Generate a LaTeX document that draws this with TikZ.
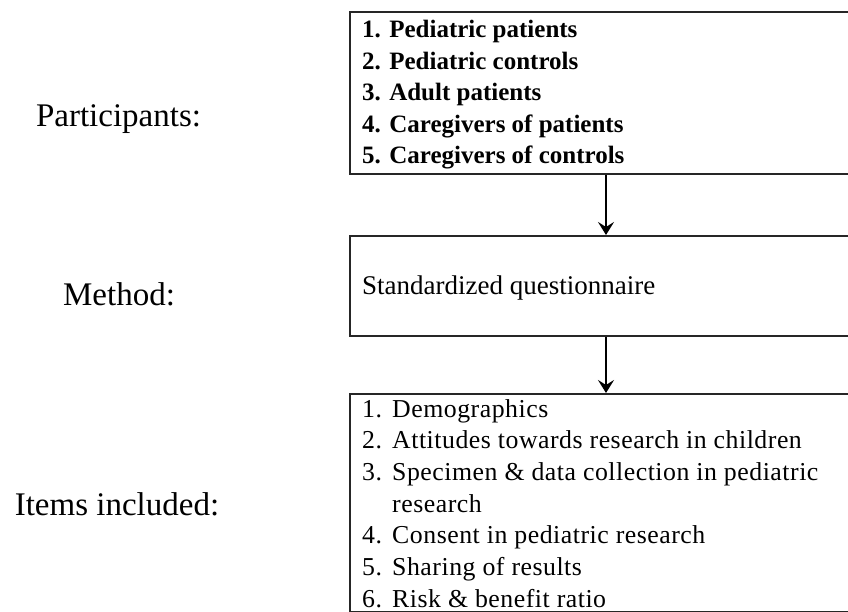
\documentclass[tikz,border=0pt]{standalone}
\usepackage{fontspec}
\setmainfont{Liberation Serif}
\newfontfamily\itemsfont[LetterSpace=2]{Liberation Serif}
\usetikzlibrary{arrows.meta}
\begin{document}
\begin{tikzpicture}[x=1pt,y=-1pt,
  box/.style={draw=black!85,line width=1.6pt,rectangle,inner sep=0pt,anchor=north west},
  item/.style={anchor=base west,inner sep=0pt,font=\itemsfont\fontsize{25.8}{30}\selectfont},
  bitem/.style={anchor=base west,inner sep=0pt,font=\fontsize{25}{30}\selectfont\bfseries},
  mitem/.style={anchor=base west,inner sep=0pt,font=\fontsize{27}{32}\selectfont},
  label/.style={anchor=base,inner sep=0pt,font=\fontsize{33}{38}\selectfont},
  flow/.style={line width=2.6pt,-{Stealth[length=13pt,width=16pt,inset=5pt]}}]
\useasboundingbox (0,0) rectangle (848,612);
\fill[white] (0,0) rectangle (848,612);

% three boxes (their right sides run past the page edge)
\node[box,minimum width=504pt,minimum height=162pt] (part) at (349,11) {};
\node[box,minimum width=504pt,minimum height=100pt] (meth) at (349,235) {};
\node[box,minimum width=504pt,minimum height=218pt] (items) at (349,393) {};

% left-hand headings
\node[label] (lpart) at (118.5,127) {Participants:};
\node[label] (lmeth) at (119,305) {Method:};
\node[label] (litems) at (117,515) {Items included:};

% participants
\node[bitem] (p1) at (362,38) {1. Pediatric patients};
\node[bitem] (p2) at (362,69.5) {2. Pediatric controls};
\node[bitem] (p3) at (362,101) {3. Adult patients};
\node[bitem] (p4) at (362,132.5) {4. Caregivers of patients};
\node[bitem] (p5) at (362,164) {5. Caregivers of controls};

% method
\node[mitem] (m1) at (362,294) {Standardized questionnaire};

% items included
\foreach \n/\t/\y [count=\i] in {1./Demographics/417,
    2./Attitudes towards research in children/448.7,
    3./Specimen \& data collection in pediatric/480.3,
    /research/512,
    4./Consent in pediatric research/543.7,
    5./Sharing of results/575.3,
    6./Risk \& benefit ratio/607}{
  \node[item] (n\i) at (362,\y) {\n};
  \node[item] (t\i) at (392,\y) {\t};
}

% connectors
\coordinate (ax) at (606,0);
\draw[flow] (ax |- part.south) -- (ax |- meth.north);
\draw[flow] (ax |- meth.south) -- (ax |- items.north);
\end{tikzpicture}
\end{document}
